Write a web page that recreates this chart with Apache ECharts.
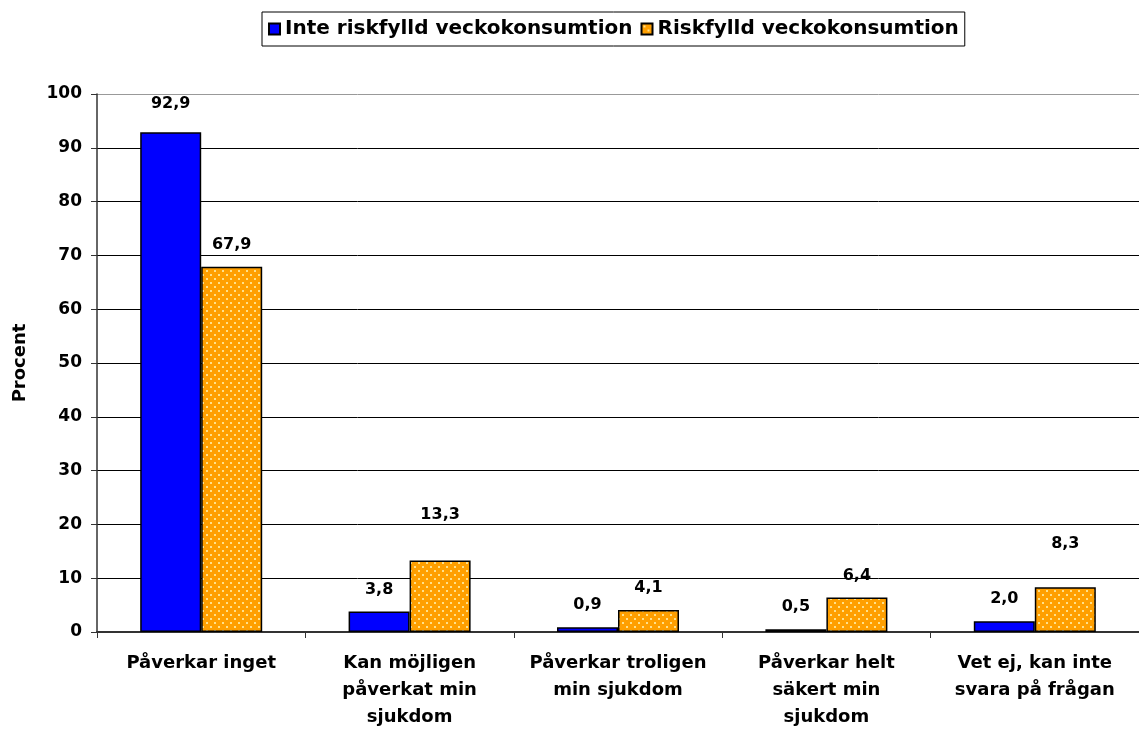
<!DOCTYPE html>
<html>
<head>
<meta charset="utf-8">
<title>Alkohol och sjukdom</title>
<script src="https://cdn.jsdelivr.net/npm/echarts@6/dist/echarts.min.js"></script>
<style>
  html, body { margin: 0; padding: 0; background: #ffffff; }
  #chart { width: 1139px; height: 731px; }
</style>
</head>
<body>
<div id="chart"></div>
<script>
// data
var categories = [
  "Påverkar inget",
  "Kan möjligen\npåverkat min\nsjukdom",
  "Påverkar troligen\nmin sjukdom",
  "Påverkar helt\nsäkert min\nsjukdom",
  "Vet ej, kan inte\nsvara på frågan"
];
var inteRiskfylld = [92.9, 3.8, 0.9, 0.5, 2.0];
var riskfylld = [67.9, 13.3, 4.1, 6.4, 8.3];
var seriesNames = ["Inte riskfylld veckokonsumtion", "Riskfylld veckokonsumtion"];
var yTicks = [0, 10, 20, 30, 40, 50, 60, 70, 80, 90, 100];

// some labels in the original sit higher above their bar
var inteLabelGap = [20, 14, 14, 14, 14];
var riskLabelGap = [14, 38, 14, 14, 36];

var font = "DejaVu Sans";

// dotted orange fill
function dotPattern() {
  var c = document.createElement("canvas");
  c.width = 8;
  c.height = 8;
  var ctx = c.getContext("2d");
  ctx.fillStyle = "#ff9f00";
  ctx.fillRect(0, 0, 8, 8);
  ctx.fillStyle = "#ffe08a";
  ctx.fillRect(2, 2, 2, 2);
  ctx.fillRect(6, 6, 2, 2);
  return c;
}

function komma(p) {
  return p.value.toFixed(1).replace(".", ",");
}

function withLabels(values, gaps) {
  var out = [];
  for (var i = 0; i < values.length; i++) {
    out.push({ value: values[i], label: { distance: gaps[i] } });
  }
  return out;
}

// gridlines black, the top one (plot border) grey
var gridColors = [];
for (var i = 0; i < yTicks.length; i++) {
  gridColors.push(i === yTicks.length - 1 ? "#999999" : "#000000");
}

var labelStyle = {
  show: true,
  position: "top",
  color: "#000000",
  fontFamily: font,
  fontWeight: "bold",
  fontSize: 16,
  formatter: komma
};

var myChart = echarts.init(document.getElementById("chart"));
myChart.setOption({
  animation: false,
  textStyle: { fontFamily: font, color: "#000000" },
  legend: {
    left: 262,
    top: 12,
    padding: [7, 6],
    borderColor: "#000000",
    borderWidth: 1,
    itemWidth: 11,
    itemHeight: 11,
    itemGap: 8,
    icon: "rect",
    textStyle: { fontFamily: font, fontWeight: "bold", fontSize: 20, color: "#000000" },
    data: seriesNames
  },
  grid: {
    left: 97,
    right: -8,
    top: 94,
    bottom: 99
  },
  xAxis: {
    type: "category",
    data: categories,
    axisLine: { lineStyle: { color: "#333333", width: 2 } },
    axisTick: { show: true, length: 6, lineStyle: { color: "#333333" } },
    axisLabel: {
      interval: 0,
      margin: 18,
      lineHeight: 27,
      color: "#000000",
      fontFamily: font,
      fontWeight: "bold",
      fontSize: 18
    }
  },
  yAxis: {
    type: "value",
    min: yTicks[0],
    max: yTicks[yTicks.length - 1],
    interval: 10,
    name: "Procent",
    nameLocation: "middle",
    nameGap: 68,
    nameTextStyle: { fontFamily: font, fontWeight: "bold", fontSize: 18, color: "#000000" },
    axisLine: { show: true, lineStyle: { color: "#333333", width: 1.5 } },
    axisTick: { show: true, length: 6, lineStyle: { color: "#333333" } },
    axisLabel: {
      margin: 15,
      color: "#000000",
      fontFamily: font,
      fontWeight: "bold",
      fontSize: 17
    },
    splitLine: {
      show: true,
      lineStyle: { color: gridColors, width: 1, type: "solid" }
    }
  },
  series: [
    {
      name: seriesNames[0],
      type: "bar",
      data: withLabels(inteRiskfylld, inteLabelGap),
      barWidth: 61,
      barGap: "0%",
      itemStyle: { color: "#0000ff", borderColor: "#000000", borderWidth: 1.5 },
      label: labelStyle
    },
    {
      name: seriesNames[1],
      type: "bar",
      data: withLabels(riskfylld, riskLabelGap),
      barWidth: 61,
      barGap: "0%",
      itemStyle: {
        color: { image: dotPattern(), repeat: "repeat" },
        borderColor: "#000000",
        borderWidth: 1.5
      },
      label: labelStyle
    }
  ]
});
</script>
</body>
</html>
